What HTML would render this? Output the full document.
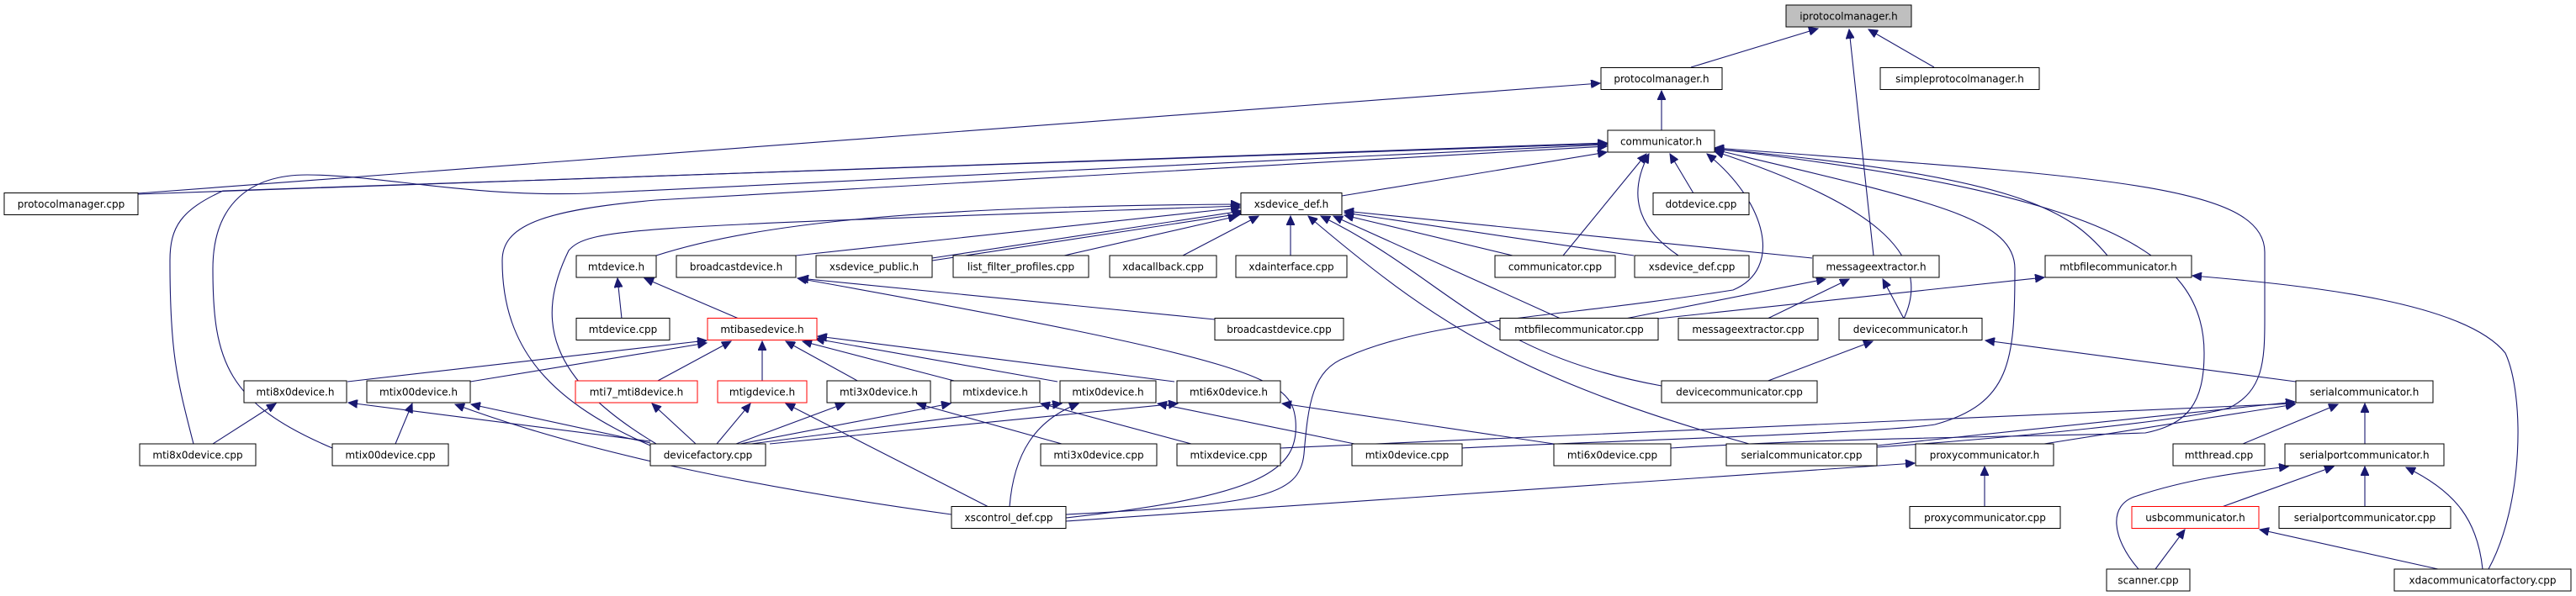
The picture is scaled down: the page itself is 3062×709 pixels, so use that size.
<!DOCTYPE html>
<html><head><meta charset="utf-8"><style>
html,body{margin:0;padding:0;background:#fff}
svg{display:block}
text{font-family:"DejaVu Sans","Liberation Sans",sans-serif;font-size:12px;fill:#000}
.e{fill:none;stroke:#191970;stroke-width:1.1}
.b{fill:#fff;stroke:#000;stroke-width:1}
.r{fill:#fff;stroke:#ff0000;stroke-width:1}
</style></head><body>
<svg width="3062" height="709" viewBox="0 0 3062 709" xmlns="http://www.w3.org/2000/svg">
<defs><marker id="a" markerUnits="userSpaceOnUse" markerWidth="12" markerHeight="10" refX="11" refY="5" orient="auto"><path d="M0,0 L11,5 L0,10 z" fill="#191970" stroke="#191970"/></marker></defs>
<g class="e" marker-end="url(#a)">
<path d="M2010,80 L2161,34"/>
<path d="M2299,80 L2221,35"/>
<path d="M2227,304 L2198,35"/>
<path d="M1975,155 L1975,108"/>
<path d="M164,230 L1902,99"/>
<path d="M164,231 L1910,170"/>
<path d="M1595,233 L1910,181"/>
<path d="M1858,304 L1957,183"/>
<path d="M1995,304 C1945,270 1935,230 1960,183"/>
<path d="M2013,230 L1985,183"/>
<path d="M395,533 C270,480 253,430 253,320 C253,240 300,208 365,208 C450,208 560,235 700,230 L1910,172"/>
<path d="M230,528 C210,450 202,420 202,310 C202,270 215,250 265,227 L1910,171"/>
<path d="M773,530 C660,480 597,420 597,310 C597,270 640,250 780,238 L1910,174"/>
<path d="M1267,612 C1500,600 1545,590 1550,540 C1555,480 1560,440 1600,425 C1700,380 1850,378 2060,345 C2120,320 2100,240 2029,183"/>
<path d="M2263,379 C2300,300 2220,240 2038,180"/>
<path d="M2505,304 C2460,250 2400,210 2038,177"/>
<path d="M1738,533 C1900,525 2240,515 2300,505 C2390,480 2395,430 2395,320 C2395,260 2300,240 2038,178"/>
<path d="M1986,533 C2200,520 2400,520 2550,515 C2600,505 2620,480 2620,420 C2620,300 2500,230 2038,177"/>
<path d="M2231,532 C2400,520 2600,500 2650,485 C2690,465 2692,430 2692,380 L2692,300 C2692,220 2500,210 2038,176"/>
<path d="M1932,379 L2170,332"/>
<path d="M2101,379 L2198,332"/>
<path d="M2263,379 L2238,332"/>
<path d="M1847,528 L1524,480"/>
<path d="M1610,528 L1376,480"/>
<path d="M915,528 L1400,480"/>
<path d="M893,528 L1262,480"/>
<path d="M880,528 L1130,480"/>
<path d="M875,528 L1004,480"/>
<path d="M852,528 L892,480"/>
<path d="M827,528 L775,480"/>
<path d="M773,527 L560,481"/>
<path d="M773,525 L414,479"/>
<path d="M1262,528 L1090,480"/>
<path d="M1416,528 L1237,480"/>
<path d="M1175,603 L934,480"/>
<path d="M1200,603 C1205,540 1230,500 1282,480"/>
<path d="M1131,612 C900,580 700,540 541,481"/>
<path d="M1267,616 C1500,590 1545,560 1540,500 C1535,450 1500,430 948,331"/>
<path d="M1444,380 L950,331"/>
<path d="M739,379 L734,331"/>
<path d="M878,379 L766,331"/>
<path d="M413,454 L840,405"/>
<path d="M559,454 L840,408"/>
<path d="M780,454 L869,406"/>
<path d="M906,454 L906,406"/>
<path d="M1021,454 L934,406"/>
<path d="M1138,454 L954,406"/>
<path d="M1257,454 L969,403"/>
<path d="M1396,454 L972,400"/>
<path d="M253,528 L328,480"/>
<path d="M470,528 L490,480"/>
<path d="M780,528 C650,450 636,380 676,298 C700,270 760,270 1474,245"/>
<path d="M780,304 C900,265 1100,245 1474,243"/>
<path d="M946,304 L1474,247"/>
<path d="M1108,307 L1476,251"/>
<path d="M1108,310 L1476,254"/>
<path d="M1265,304 L1471,257"/>
<path d="M1406,304 L1496,257"/>
<path d="M1534,304 L1534,257"/>
<path d="M1798,304 L1598,256"/>
<path d="M1942,304 L1598,253"/>
<path d="M2154,307 L1598,251"/>
<path d="M1855,379 L1585,257"/>
<path d="M1975,459 C1760,420 1720,330 1570,257"/>
<path d="M2079,528 C1800,450 1700,380 1555,257"/>
<path d="M2430,528 L2728,481"/>
<path d="M2231,530 L2728,478"/>
<path d="M1522,533 L2728,480"/>
<path d="M2666,528 L2779,481"/>
<path d="M2811,528 L2811,480"/>
<path d="M2729,454 L2360,405"/>
<path d="M2099,454 L2226,406"/>
<path d="M2359,603 L2359,555"/>
<path d="M1267,620 L2276,551"/>
<path d="M2562,677 L2597,630"/>
<path d="M2898,677 L2686,630"/>
<path d="M2641,603 L2774,555"/>
<path d="M2811,603 L2811,555"/>
<path d="M2951,677 C2945,620 2920,585 2860,556"/>
<path d="M2542,677 C2510,640 2505,600 2540,590 C2600,570 2660,562 2720,555"/>
<path d="M2958,677 C3000,600 3001,470 2978,420 C2930,360 2750,340 2606,328"/>
<path d="M1971,379 L2430,330"/>
</g>
<g>
<rect x="2123" y="6" width="149" height="26" fill="#bfbfbf" stroke="#000"/><text x="2197.5" y="23.5" text-anchor="middle">iprotocolmanager.h</text>
<rect class="b" x="1903" y="80.5" width="144" height="26"/><text x="1975" y="98" text-anchor="middle">protocolmanager.h</text>
<rect class="b" x="2235" y="80.5" width="189" height="26"/><text x="2329.5" y="98" text-anchor="middle">simpleprotocolmanager.h</text>
<rect class="b" x="1911" y="155" width="127" height="26"/><text x="1974.5" y="172.5" text-anchor="middle">communicator.h</text>
<rect class="b" x="5" y="229.5" width="159" height="26"/><text x="84.5" y="247" text-anchor="middle">protocolmanager.cpp</text>
<rect class="b" x="1475" y="229.5" width="120" height="26"/><text x="1535" y="247" text-anchor="middle">xsdevice_def.h</text>
<rect class="b" x="1965" y="229.5" width="114" height="26"/><text x="2022" y="247" text-anchor="middle">dotdevice.cpp</text>
<rect class="b" x="685" y="304" width="95" height="26"/><text x="732.5" y="321.5" text-anchor="middle">mtdevice.h</text>
<rect class="b" x="804" y="304" width="142" height="26"/><text x="875" y="321.5" text-anchor="middle">broadcastdevice.h</text>
<rect class="b" x="970" y="304" width="138" height="26"/><text x="1039" y="321.5" text-anchor="middle">xsdevice_public.h</text>
<rect class="b" x="1133" y="304" width="161" height="26"/><text x="1213.5" y="321.5" text-anchor="middle">list_filter_profiles.cpp</text>
<rect class="b" x="1319" y="304" width="127" height="26"/><text x="1382.5" y="321.5" text-anchor="middle">xdacallback.cpp</text>
<rect class="b" x="1469" y="304" width="132" height="26"/><text x="1535" y="321.5" text-anchor="middle">xdainterface.cpp</text>
<rect class="b" x="1777" y="304" width="143" height="26"/><text x="1848.5" y="321.5" text-anchor="middle">communicator.cpp</text>
<rect class="b" x="1943" y="304" width="136" height="26"/><text x="2011" y="321.5" text-anchor="middle">xsdevice_def.cpp</text>
<rect class="b" x="2155" y="304" width="150" height="26"/><text x="2230" y="321.5" text-anchor="middle">messageextractor.h</text>
<rect class="b" x="2431" y="304" width="174" height="26"/><text x="2518" y="321.5" text-anchor="middle">mtbfilecommunicator.h</text>
<rect class="b" x="685" y="378.5" width="111" height="26"/><text x="740.5" y="396" text-anchor="middle">mtdevice.cpp</text>
<rect class="r" x="841" y="378.5" width="130" height="26"/><text x="906" y="396" text-anchor="middle">mtibasedevice.h</text>
<rect class="b" x="1444" y="378.5" width="153" height="26"/><text x="1520.5" y="396" text-anchor="middle">broadcastdevice.cpp</text>
<rect class="b" x="1783" y="378.5" width="188" height="26"/><text x="1877" y="396" text-anchor="middle">mtbfilecommunicator.cpp</text>
<rect class="b" x="1995" y="378.5" width="166" height="26"/><text x="2078" y="396" text-anchor="middle">messageextractor.cpp</text>
<rect class="b" x="2186" y="378.5" width="170" height="26"/><text x="2271" y="396" text-anchor="middle">devicecommunicator.h</text>
<rect class="b" x="290" y="453" width="122" height="26"/><text x="351" y="470.5" text-anchor="middle">mti8x0device.h</text>
<rect class="b" x="436" y="453" width="123" height="26"/><text x="497.5" y="470.5" text-anchor="middle">mtix00device.h</text>
<rect class="r" x="684" y="453" width="145" height="26"/><text x="756.5" y="470.5" text-anchor="middle">mti7_mti8device.h</text>
<rect class="r" x="853" y="453" width="106" height="26"/><text x="906" y="470.5" text-anchor="middle">mtigdevice.h</text>
<rect class="b" x="983" y="453" width="123" height="26"/><text x="1044.5" y="470.5" text-anchor="middle">mti3x0device.h</text>
<rect class="b" x="1130" y="453" width="106" height="26"/><text x="1183" y="470.5" text-anchor="middle">mtixdevice.h</text>
<rect class="b" x="1260" y="453" width="114" height="26"/><text x="1317" y="470.5" text-anchor="middle">mtix0device.h</text>
<rect class="b" x="1399" y="453" width="123" height="26"/><text x="1460.5" y="470.5" text-anchor="middle">mti6x0device.h</text>
<rect class="b" x="1975" y="453" width="185" height="26"/><text x="2067.5" y="470.5" text-anchor="middle">devicecommunicator.cpp</text>
<rect class="b" x="2729" y="453" width="163" height="26"/><text x="2810.5" y="470.5" text-anchor="middle">serialcommunicator.h</text>
<rect class="b" x="166" y="528" width="138" height="26"/><text x="235" y="545.5" text-anchor="middle">mti8x0device.cpp</text>
<rect class="b" x="395" y="528" width="138" height="26"/><text x="464" y="545.5" text-anchor="middle">mtix00device.cpp</text>
<rect class="b" x="773" y="528" width="137" height="26"/><text x="841.5" y="545.5" text-anchor="middle">devicefactory.cpp</text>
<rect class="b" x="1237" y="528" width="138" height="26"/><text x="1306" y="545.5" text-anchor="middle">mti3x0device.cpp</text>
<rect class="b" x="1399" y="528" width="123" height="26"/><text x="1460.5" y="545.5" text-anchor="middle">mtixdevice.cpp</text>
<rect class="b" x="1607" y="528" width="131" height="26"/><text x="1672.5" y="545.5" text-anchor="middle">mtix0device.cpp</text>
<rect class="b" x="1847" y="528" width="139" height="26"/><text x="1916.5" y="545.5" text-anchor="middle">mti6x0device.cpp</text>
<rect class="b" x="2052" y="528" width="179" height="26"/><text x="2141.5" y="545.5" text-anchor="middle">serialcommunicator.cpp</text>
<rect class="b" x="2277" y="528" width="164" height="26"/><text x="2359" y="545.5" text-anchor="middle">proxycommunicator.h</text>
<rect class="b" x="2583" y="528" width="109" height="26"/><text x="2637.5" y="545.5" text-anchor="middle">mtthread.cpp</text>
<rect class="b" x="2716" y="528" width="189" height="26"/><text x="2810.5" y="545.5" text-anchor="middle">serialportcommunicator.h</text>
<rect class="b" x="1131" y="602.5" width="136" height="26"/><text x="1199" y="620" text-anchor="middle">xscontrol_def.cpp</text>
<rect class="b" x="2270" y="602.5" width="179" height="26"/><text x="2359.5" y="620" text-anchor="middle">proxycommunicator.cpp</text>
<rect class="r" x="2534" y="602.5" width="151" height="26"/><text x="2609.5" y="620" text-anchor="middle">usbcommunicator.h</text>
<rect class="b" x="2709" y="602.5" width="204" height="26"/><text x="2811" y="620" text-anchor="middle">serialportcommunicator.cpp</text>
<rect class="b" x="2504" y="677" width="99" height="26"/><text x="2553.5" y="694.5" text-anchor="middle">scanner.cpp</text>
<rect class="b" x="2846" y="677" width="210" height="26"/><text x="2951" y="694.5" text-anchor="middle">xdacommunicatorfactory.cpp</text>
</g>
</svg>
</body></html>
